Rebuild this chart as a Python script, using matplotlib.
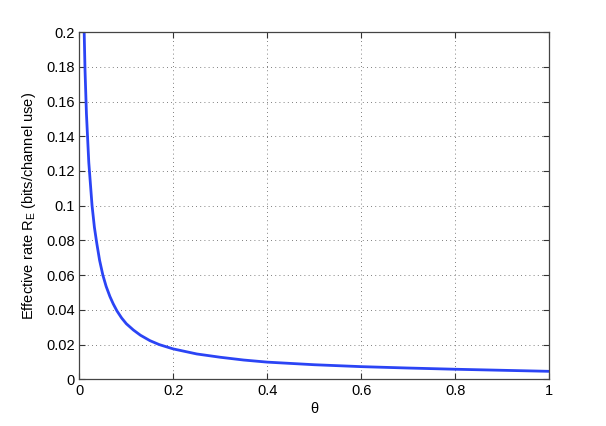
import numpy as np
import matplotlib
matplotlib.use('Agg')
import matplotlib.pyplot as plt

plt.rcParams['font.family'] = ['Liberation Sans', 'DejaVu Sans']

# values
theta = [0.0102, 0.012, 0.015, 0.020, 0.027, 0.032, 0.037, 0.043, 0.050, 0.057,
         0.065, 0.072, 0.080, 0.090, 0.100, 0.115, 0.130, 0.150, 0.170, 0.200,
         0.250, 0.300, 0.350, 0.400, 0.500, 0.600, 0.700, 0.800, 0.900, 1.000]
rate = [0.2000, 0.1780, 0.1530, 0.1250, 0.1000, 0.0875, 0.0784, 0.0686, 0.0600, 0.0535,
        0.0477, 0.0435, 0.0394, 0.0353, 0.0320, 0.0284, 0.0254, 0.0223, 0.0200, 0.0175,
        0.0146, 0.0127, 0.0111, 0.0099, 0.0084, 0.0073, 0.0065, 0.0058, 0.0052, 0.0046]

xticks = [0, 0.2, 0.4, 0.6, 0.8, 1]
xlabels = ['0', '0.2', '0.4', '0.6', '0.8', '1']
yticks = [0, 0.02, 0.04, 0.06, 0.08, 0.1, 0.12, 0.14, 0.16, 0.18, 0.2]
ylabels = ['0', '0.02', '0.04', '0.06', '0.08', '0.1', '0.12', '0.14', '0.16', '0.18', '0.2']

fig = plt.figure(figsize=(6.06, 4.26), dpi=100)
ax = fig.add_axes([0.131, 0.1096, 0.775, 0.815])

ax.plot(theta, rate, color='#2b44f5', linewidth=2.0, solid_joinstyle='round')

ax.set_xlim(0, 1)
ax.set_ylim(0, 0.2)
ax.set_xticks(xticks)
ax.set_xticklabels(xlabels)
ax.set_yticks(yticks)
ax.set_yticklabels(ylabels)
ax.tick_params(direction='in', top=True, right=True, length=4, width=0.8,
               labelsize=10.5, colors='#333333', labelcolor='black')
ax.grid(True, linestyle=(0, (1, 4)), color='#555555', linewidth=0.6)
for s in ax.spines.values():
    s.set_color('#444444')
    s.set_linewidth(0.9)

ax.set_xlabel('θ', fontsize=10.5, labelpad=3)
ax.set_ylabel(r'Effective rate R$_\mathregular{E}$ (bits/channel use)', fontsize=10.5, labelpad=6)

fig.savefig('out.png', dpi=100)
